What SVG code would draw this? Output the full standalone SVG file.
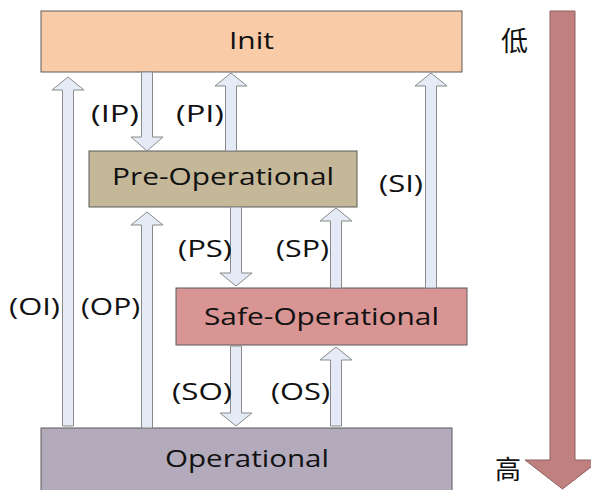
<svg xmlns="http://www.w3.org/2000/svg" width="591" height="490" viewBox="0 0 591 490">
<style>
.box{stroke:#5a5a5a;stroke-width:1}
.arr{fill:#E4EBF6;stroke:#8a8a8a;stroke-width:1;stroke-linejoin:miter}
.t{font-family:"Open Sans","DejaVu Sans",sans-serif;font-size:24px;fill:#111}
.lbl{font-family:"Open Sans","DejaVu Sans",sans-serif;font-size:24px;fill:#111}
.cjk{font-family:"Noto Sans CJK SC","Noto Sans CJK JP",sans-serif;fill:#111}
</style>
<rect width="591" height="490" fill="#ffffff"/>
<g id="init">
<rect class="box" x="41" y="11" width="421" height="61" fill="#F9CBA7"/>
<text class="t" x="229" y="49" textLength="45" lengthAdjust="spacingAndGlyphs">Init</text>
</g>
<g id="preop">
<rect class="box" x="89" y="151" width="268" height="56" fill="#C4B898"/>
<text class="t" x="112" y="185" textLength="222" lengthAdjust="spacingAndGlyphs">Pre-Operational</text>
</g>
<g id="safeop">
<rect class="box" x="176" y="288" width="291" height="57" fill="#D99594"/>
<text class="t" x="204" y="325" textLength="235" lengthAdjust="spacingAndGlyphs">Safe-Operational</text>
</g>
<g id="op">
<rect class="box" x="41" y="428" width="411" height="70" fill="#B3AABB"/>
<text class="t" x="165" y="467" textLength="164" lengthAdjust="spacingAndGlyphs">Operational</text>
</g>
<g id="connectors">
<path class="arr" d="M62.5,426 V90 H52 L68,77 L84,90 H73.5 V426 Z"/>
<path class="arr" d="M141.5,72 V137 H131 L147,151 L163,137 H152.5 V72 Z"/>
<path class="arr" d="M225.5,151 V86 H215 L231,73 L247,86 H236.5 V151 Z"/>
<path class="arr" d="M425.5,288 V86 H415 L431,73 L447,86 H436.5 V288 Z"/>
<path class="arr" d="M141.5,428 V225 H131 L147,212 L163,225 H152.5 V428 Z"/>
<path class="arr" d="M230.5,207 V273 H220 L236,286 L252,273 H241.5 V207 Z"/>
<path class="arr" d="M330.5,288 V221 H320 L336,208 L352,221 H341.5 V288 Z"/>
<path class="arr" d="M230.5,346 V413 H220 L236,426 L252,413 H241.5 V346 Z"/>
<path class="arr" d="M330.5,426 V360 H320 L336,347 L352,360 H341.5 V426 Z"/>
<path d="M550,11 V460 H525 L562.5,489 L600,460 H575 V11 Z" fill="#C08080" stroke="#8f6060" stroke-width="1"/>
</g>
<g id="labels">
<text class="lbl" x="91" y="122" textLength="48" lengthAdjust="spacingAndGlyphs">(IP)</text>
<text class="lbl" x="176" y="122" textLength="48" lengthAdjust="spacingAndGlyphs">(PI)</text>
<text class="lbl" x="379" y="192" textLength="44" lengthAdjust="spacingAndGlyphs">(SI)</text>
<text class="lbl" x="178" y="257" textLength="54" lengthAdjust="spacingAndGlyphs">(PS)</text>
<text class="lbl" x="276" y="257" textLength="53" lengthAdjust="spacingAndGlyphs">(SP)</text>
<text class="lbl" x="9" y="315" textLength="51" lengthAdjust="spacingAndGlyphs">(OI)</text>
<text class="lbl" x="81" y="315" textLength="59" lengthAdjust="spacingAndGlyphs">(OP)</text>
<text class="lbl" x="172" y="400" textLength="60" lengthAdjust="spacingAndGlyphs">(SO)</text>
<text class="lbl" x="271" y="400" textLength="59" lengthAdjust="spacingAndGlyphs">(OS)</text>
<text class="cjk" x="501" y="51" font-size="27">低</text>
<text class="cjk" x="495" y="479" font-size="26">高</text>
</g>
</svg>
